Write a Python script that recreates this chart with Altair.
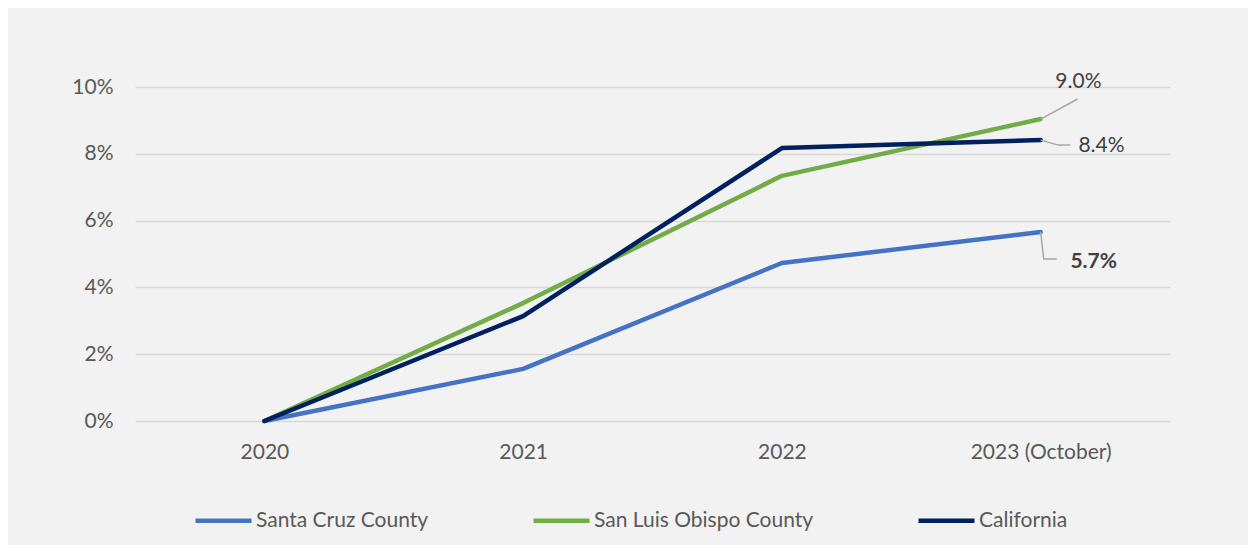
import altair as alt
import pandas as pd

years = ["2020", "2021", "2022", "2023 (October)"]
series = ["Santa Cruz County", "San Luis Obispo County", "California"]
santa_cruz = [0.0, 0.0156, 0.0473, 0.0566]
slo = [0.0, 0.0353, 0.0734, 0.0904]
california = [0.0, 0.0314, 0.0817, 0.0841]
colors = ["#4472c4", "#70ad47", "#002060"]

# end labels
lab_text = ["9.0%", "8.4%", "5.7%"]
lab_x = [3.146, 3.146, 3.115]
lab_y = [0.1015, 0.0823, 0.0476]

# leader lines (data units)
lead_id = ["a", "a", "b", "b", "b", "c", "c", "c"]
lead_ord = [0, 1, 0, 1, 2, 0, 1, 2]
lead_x = [3.0, 3.143, 3.0, 3.069, 3.115, 3.0, 3.012, 3.062]
lead_y = [0.0904, 0.0964, 0.0841, 0.0826, 0.0826, 0.0566, 0.0485, 0.0485]

rows = []
for name, vals in zip(series, [santa_cruz, slo, california]):
    for i, v in enumerate(vals):
        rows.append({"series": name, "idx": i, "value": v})
df = pd.DataFrame(rows)

labels = pd.DataFrame({"text": lab_text, "x": lab_x, "y": lab_y})
leaders = pd.DataFrame({"id": lead_id, "ord": lead_ord, "x": lead_x, "y": lead_y})

FONT = "Lato"
FS = 21
W, H = 1035, 334

xscale = alt.Scale(domain=[-0.5, 3.5], nice=False, zero=False)
yscale = alt.Scale(domain=[0, 0.10], nice=False)

lines = alt.Chart(df).mark_line(strokeWidth=4.5, strokeCap="round", strokeJoin="round").encode(
    x=alt.X("idx:Q", scale=xscale, title=None,
            axis=alt.Axis(values=[0, 1, 2, 3], grid=False, domain=False, ticks=False,
                          labelExpr="['2020','2021','2022','2023 (October)'][datum.value]",
                          labelPadding=20, labelFontSize=FS, labelColor="#595959",
                          labelFont=FONT)),
    y=alt.Y("value:Q", scale=yscale, title=None,
            axis=alt.Axis(values=[0, 0.02, 0.04, 0.06, 0.08, 0.10], format=".0%",
                          grid=True, gridColor="#d9d9d9", gridWidth=1.5, domain=False,
                          ticks=False, labelPadding=22, labelFontSize=FS,
                          labelColor="#595959", labelFont=FONT)),
    color=alt.Color("series:N", scale=alt.Scale(domain=series, range=colors),
                    sort=series, title=None,
                    legend=alt.Legend(orient="none", legendX=58, legendY=403,
                                      direction="horizontal", symbolType="stroke",
                                      symbolSize=3136, symbolStrokeWidth=4.5,
                                      labelFontSize=FS, labelColor="#595959",
                                      labelFont=FONT, columnPadding=95,
                                      labelOffset=2, labelLimit=400)),
    order="idx:Q",
)

lead = alt.Chart(leaders).mark_line(color="#a6a6a6", strokeWidth=1.5).encode(
    x=alt.X("x:Q", scale=xscale),
    y=alt.Y("y:Q", scale=yscale),
    detail="id:N",
    order="ord:Q",
)

t1 = alt.Chart(labels.iloc[[0]]).mark_text(fontSize=FS, color="#404040", font=FONT,
                                           baseline="middle", align="center").encode(
    x=alt.X("x:Q", scale=xscale), y=alt.Y("y:Q", scale=yscale), text="text:N")
t2 = alt.Chart(labels.iloc[[1]]).mark_text(fontSize=FS, color="#404040", font=FONT,
                                           baseline="middle", align="left").encode(
    x=alt.X("x:Q", scale=xscale), y=alt.Y("y:Q", scale=yscale), text="text:N")
t3 = alt.Chart(labels.iloc[[2]]).mark_text(fontSize=FS, color="#404040", font=FONT,
                                           baseline="middle", align="left",
                                           fontWeight="bold").encode(
    x=alt.X("x:Q", scale=xscale), y=alt.Y("y:Q", scale=yscale), text="text:N")

chart = alt.layer(lines, lead, t1, t2, t3).properties(
    width=W, height=H,
    autosize=alt.AutoSizeParams(type="none"),
    padding={"left": 127, "top": 79, "right": 78, "bottom": 124},
    background="#f2f2f2",
).configure_view(stroke=None)

chart.save("out.html", embed_options={"renderer": "svg", "actions": False})
